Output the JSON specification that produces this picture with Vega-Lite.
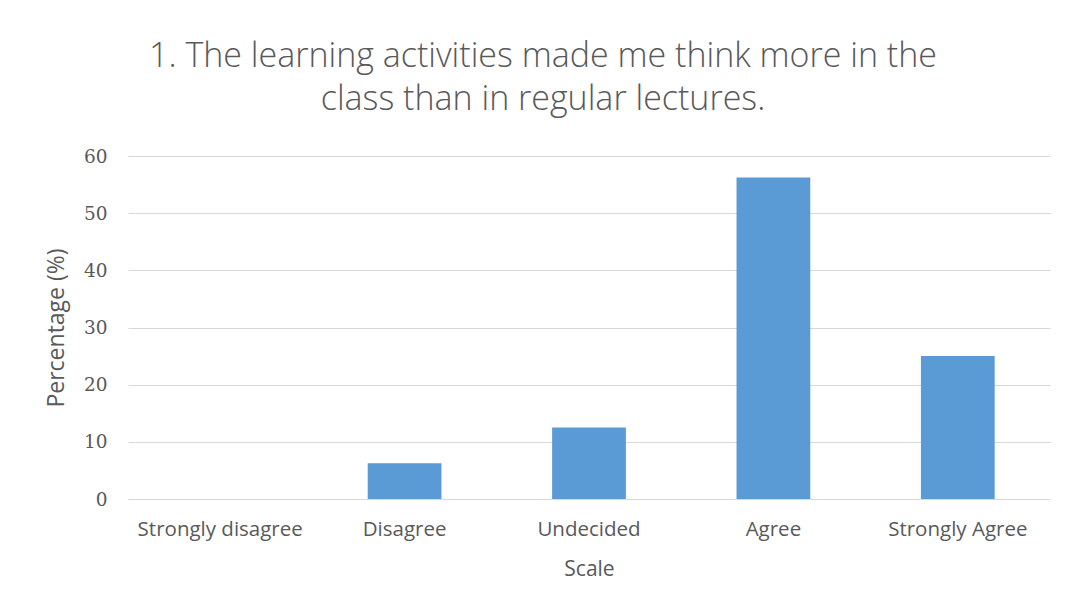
{
  "$schema": "https://vega.github.io/schema/vega-lite/v6.json",
  "autosize": "none",
  "width": 922,
  "height": 343,
  "padding": {"left": 128, "top": 156, "right": 17, "bottom": 111},
  "background": "white",
  "title": {
    "text": ["1. The learning activities made me think more in the", "class than in regular lectures."],
    "font": "Open Sans",
    "fontWeight": 300,
    "fontSize": 34,
    "lineHeight": 43,
    "color": "#595959",
    "anchor": "middle",
    "dx": -46,
    "offset": 30
  },
  "data": {
    "values": [
      {"scale": "Strongly disagree", "pct": 0},
      {"scale": "Disagree", "pct": 6.25},
      {"scale": "Undecided", "pct": 12.5},
      {"scale": "Agree", "pct": 56.25},
      {"scale": "Strongly Agree", "pct": 25}
    ]
  },
  "mark": {"type": "bar", "color": "#5B9BD5"},
  "encoding": {
    "x": {
      "field": "scale",
      "type": "nominal",
      "sort": null,
      "scale": {"paddingInner": 0.6, "paddingOuter": 0.3},
      "axis": {
        "title": "Scale",
        "labelAngle": 0,
        "labelFont": "Open Sans",
        "labelFontSize": 20.5,
        "labelColor": "#595959",
        "labelPadding": 20,
        "ticks": false,
        "domain": false,
        "titleFont": "Open Sans",
        "titleFontSize": 21,
        "titleFontWeight": "normal",
        "titleColor": "#595959",
        "titlePadding": 19
      }
    },
    "y": {
      "field": "pct",
      "type": "quantitative",
      "scale": {"domain": [0, 60]},
      "axis": {
        "title": "Percentage (%)",
        "values": [0, 10, 20, 30, 40, 50, 60],
        "labelFont": "DejaVu Serif",
        "labelFontSize": 18.5,
        "labelColor": "#595959",
        "labelPadding": 21,
        "ticks": false,
        "domain": false,
        "gridColor": "#d9d9d9",
        "gridWidth": 1,
        "titleFont": "Open Sans",
        "titleFontSize": 23,
        "titleFontWeight": "normal",
        "titleColor": "#595959",
        "titlePadding": 15
      }
    }
  },
  "config": {"view": {"stroke": null}}
}
